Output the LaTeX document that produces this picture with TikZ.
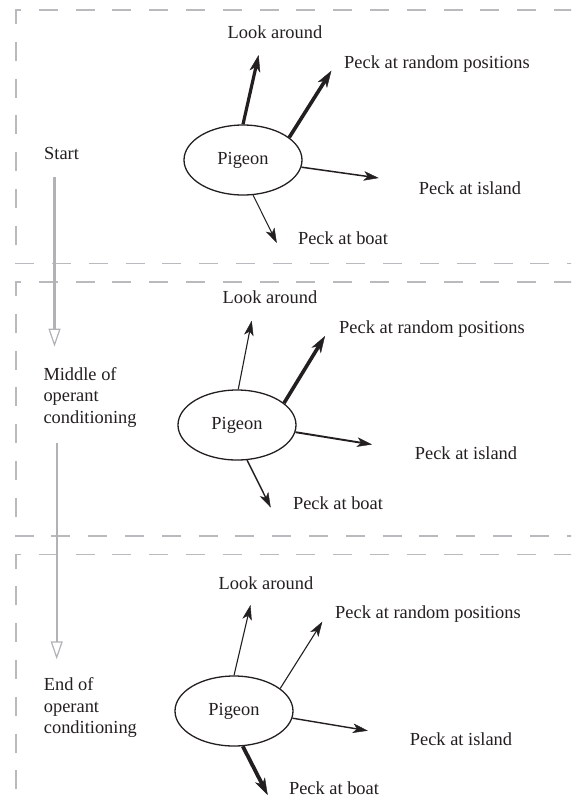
\documentclass[tikz,border=0pt]{standalone}
\usepackage{fontspec}
\setmainfont{Liberation Serif}
\usetikzlibrary{arrows.meta,shapes.geometric}
\definecolor{ink}{RGB}{35,31,32}
\definecolor{frame}{RGB}{185,185,190}
\definecolor{flow}{RGB}{178,178,182}

\begin{document}
\begin{tikzpicture}[x=1pt,y=-1pt,
  lbl/.style={font=\fontsize{18.4}{21.7}\selectfont, text=ink, inner sep=0pt},
  bird/.style={ellipse, draw=ink, line width=1.3pt, minimum width=118pt,
    minimum height=70pt, inner sep=0pt, lbl},
  resp/.style={draw=ink, -{Stealth[length=15pt,width=9.5pt,inset=4pt,line width=0.4pt]}},
  strong/.style={draw=ink, -{Stealth[length=17pt,width=11pt,inset=5pt,line width=0.4pt]}},
  panel/.style={draw=frame, line width=1.4pt, dash pattern=on 19pt off 17.8pt},
  stage/.style={draw=flow, line width=2.4pt,
    -{Triangle[open,length=18pt,width=12pt,line width=1.2pt]}},
]
\useasboundingbox (0,0) rectangle (571,806);
\clip (0,0) rectangle (571,806);

% dashed frames of the three stages (open to the right)
\draw[panel] (21,10) -- (16,10) -- (16,263.5) -- (590,263.5);
\draw[panel, dash phase=19pt] (21,10) -- (590,10);
\draw[panel] (21,282) -- (16,282) -- (16,536) -- (590,536);
\draw[panel, dash phase=19pt] (21,282) -- (590,282);
\draw[panel] (21,554.5) -- (16,554.5) -- (16,808.5) -- (590,808.5);
\draw[panel, dash phase=19pt] (21,554.5) -- (590,554.5);

% stage labels on the left
\node[lbl, anchor=base west] (start) at (44,159.3) {Start};
\node[lbl, anchor=north west, align=left] (middle) at (43.3,366.9)
  {Middle of\\operant\\conditioning};
\node[lbl, anchor=north west, align=left] (end) at (43.7,677.4)
  {End of\\operant\\conditioning};

% progression arrows between the stages
\coordinate (s1a) at (54.5,177.3);
\coordinate (s1b) at (54.5,346.7);
\coordinate (s2a) at (56.7,443.3);
\coordinate (s2b) at (56.7,659.3);
\draw[stage] (s1a) -- (s1b);
\draw[stage] (s2a) -- (s2b);

% ---------- stage 1: start ----------
\node[bird] (p1) at (243,160) {Pigeon};
\node[lbl, anchor=base] (p1lookL) at (275,38.3) {Look around};
\node[lbl, anchor=base] (p1randL) at (437,68.3) {Peck at random positions};
\node[lbl, anchor=base] (p1islL) at (470,194.3) {Peck at island};
\node[lbl, anchor=base] (p1boatL) at (343,244.3) {Peck at boat};
\coordinate (p1look) at (258.6,55);
\coordinate (p1rand) at (331.4,70.7);
\coordinate (p1isl) at (378.7,178);
\coordinate (p1boat) at (276.8,243);
\draw[strong, line width=3.2pt] (p1.90) -- (p1look);
\draw[strong, line width=3.6pt] (p1.26) -- (p1rand);
\draw[resp, line width=1.5pt] (p1.-7) -- (p1isl);
\draw[resp, line width=1.0pt] (p1.-74) -- (p1boat);

% ---------- stage 2: middle ----------
\node[bird] (p2) at (237,425) {Pigeon};
\node[lbl, anchor=base] (p2lookL) at (270,303.3) {Look around};
\node[lbl, anchor=base] (p2randL) at (432,333) {Peck at random positions};
\node[lbl, anchor=base] (p2islL) at (466,459) {Peck at island};
\node[lbl, anchor=base] (p2boatL) at (338,509.3) {Peck at boat};
\coordinate (p2look) at (251.7,320.7);
\coordinate (p2rand) at (325,336);
\coordinate (p2isl) at (372,444.5);
\coordinate (p2boat) at (270.7,507.5);
\draw[resp, line width=1.1pt] (p2.88) -- (p2look);
\draw[strong, line width=3.6pt] (p2.25) -- (p2rand);
\draw[resp, line width=1.9pt] (p2.-7) -- (p2isl);
\draw[resp, line width=1.4pt] (p2.-74) -- (p2boat);

% ---------- stage 3: end ----------
\node[bird] (p3) at (234,711) {Pigeon};
\node[lbl, anchor=base] (p3lookL) at (266,589.3) {Look around};
\node[lbl, anchor=base] (p3randL) at (428,618.3) {Peck at random positions};
\node[lbl, anchor=base] (p3islL) at (461,745.3) {Peck at island};
\node[lbl, anchor=base] (p3boatL) at (334,794.3) {Peck at boat};
\coordinate (p3look) at (250.5,605);
\coordinate (p3rand) at (322.3,621.7);
\coordinate (p3isl) at (367.8,730.7);
\coordinate (p3boat) at (267.7,795);
\draw[resp, line width=1.1pt] (p3.90) -- (p3look);
\draw[resp, line width=1.1pt] (p3.26) -- (p3rand);
\draw[resp, line width=1.4pt] (p3.-7) -- (p3isl);
\draw[strong, line width=3.8pt] (p3.-76) -- (p3boat);
\end{tikzpicture}
\end{document}
